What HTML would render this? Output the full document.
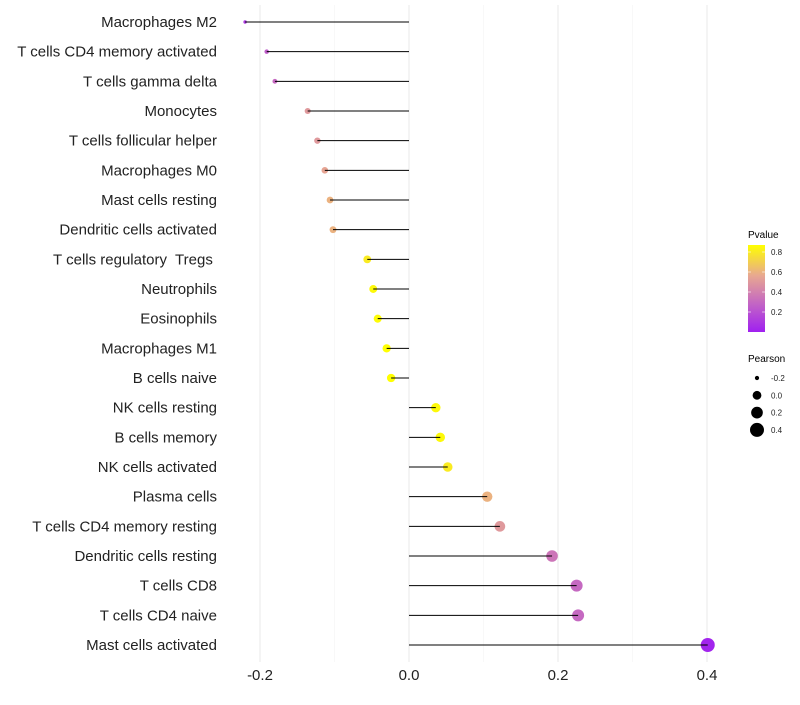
<!DOCTYPE html>
<html><head><meta charset="utf-8"><style>
body{margin:0;background:#fff;font-family:"Liberation Sans",sans-serif;}
svg text{font-family:"Liberation Sans",sans-serif;white-space:pre;}
</style></head><body>
<svg id="chart" width="800" height="700">
<defs>
<linearGradient id="pg" x1="0" y1="1" x2="0" y2="0">
<stop offset="0" stop-color="#a020f0"/>
<stop offset="0.3" stop-color="#c060c8"/>
<stop offset="0.65" stop-color="#e8a890"/>
<stop offset="1" stop-color="#ffff00"/>
</linearGradient>
</defs>
<g id="grid"></g>
<g id="dots"></g>
<g id="marks"></g>
<g id="ylabels"></g>
<g id="xlabels"></g>
<g>
<text x="748" y="238" font-size="10">Pvalue</text>
<rect x="748" y="245" width="17" height="87" fill="url(#pg)"/>
<g id="cbticks"></g>
</g>
<g>
<text x="748" y="362" font-size="10">Pearson</text>
<g id="sizeleg"></g>
</g>
</svg>
<script>
const categories=["Macrophages M2","T cells CD4 memory activated","T cells gamma delta","Monocytes","T cells follicular helper","Macrophages M0","Mast cells resting","Dendritic cells activated","T cells regulatory  Tregs ","Neutrophils","Eosinophils","Macrophages M1","B cells naive","NK cells resting","B cells memory","NK cells activated","Plasma cells","T cells CD4 memory resting","Dendritic cells resting","T cells CD8","T cells CD4 naive","Mast cells activated"];
const pearson=[-0.220,-0.191,-0.180,-0.136,-0.123,-0.113,-0.106,-0.102,-0.056,-0.048,-0.042,-0.030,-0.024,0.036,0.042,0.052,0.105,0.122,0.192,0.225,0.227,0.401];
const pvalues=[0.10,0.25,0.30,0.50,0.50,0.55,0.60,0.60,0.80,0.85,0.86,0.88,0.90,0.85,0.85,0.80,0.60,0.50,0.35,0.30,0.30,0.02];
const xTicks=[-0.2,0.0,0.2,0.4];
const xMinor=[-0.1,0.1,0.3];
const cbTicks=[0.2,0.4,0.6,0.8];
const sizeLegend=[-0.2,0.0,0.2,0.4];

const NS="http://www.w3.org/2000/svg";
const X=v=>409+v*745;
const Y=i=>22+i*(623/21);
const R=v=>Math.sqrt(Math.max(2,3+(v+0.22)*74));
const P=p=>332-p*100;
function lerp(a,b,t){return a+(b-a)*t;}
const stops=[[0,[160,32,240]],[0.3,[192,96,200]],[0.65,[232,168,144]],[1,[255,255,0]]];
function color(p){let t=Math.min(1,Math.max(0,p/0.87));for(let k=1;k<stops.length;k++){if(t<=stops[k][0]){const a=stops[k-1],b=stops[k];const u=(t-a[0])/(b[0]-a[0]);return `rgb(${[0,1,2].map(j=>Math.round(lerp(a[1][j],b[1][j],u))).join(',')})`;}}return 'rgb(255,255,0)';}
function mk(tag,attrs,parent){const e=document.createElementNS(NS,tag);for(const k in attrs)e.setAttribute(k,attrs[k]);document.getElementById(parent).appendChild(e);return e;}

xMinor.forEach(v=>{const l=mk('line',{x1:X(v),x2:X(v),y1:5,y2:662,stroke:'#f4f4f4','stroke-width':0.6},'grid');

});
xTicks.forEach(v=>{const l=mk('line',{x1:X(v),x2:X(v),y1:5,y2:662,stroke:'#ebebeb','stroke-width':1.1},'grid');


const t=mk('text',{x:X(v),y:680,'font-size':15,'text-anchor':'middle',fill:'#222'},'xlabels');t.textContent=v.toFixed(1);

});

categories.forEach((c,i)=>{
const t=mk('text',{x:217,y:Y(i)+5,'font-size':15,'text-anchor':'end',fill:'#222'},'ylabels');t.textContent=c;


const l=mk('line',{x1:X(0),x2:X(pearson[i]),y1:Y(i),y2:Y(i),stroke:'#000','stroke-width':1},'marks');


const d=mk('circle',{cx:X(pearson[i]),cy:Y(i),r:R(pearson[i]),fill:color(pvalues[i])},'dots');


});

cbTicks.forEach(p=>{
mk('line',{x1:748,x2:751,y1:P(p),y2:P(p),stroke:'#fff','stroke-width':0.6},'cbticks');
mk('line',{x1:762,x2:765,y1:P(p),y2:P(p),stroke:'#fff','stroke-width':0.6},'cbticks');
const t=mk('text',{x:771,y:P(p)+3,'font-size':8,fill:'#222'},'cbticks');t.textContent=p.toFixed(1);

});

sizeLegend.forEach((v,k)=>{const cy=378+k*17.3;
const c=mk('circle',{cx:757,cy:cy,r:R(v),fill:'#000'},'sizeleg');


const t=mk('text',{x:771,y:cy+3,'font-size':8,fill:'#222'},'sizeleg');t.textContent=v.toFixed(1);

});
</script>
</body></html>
